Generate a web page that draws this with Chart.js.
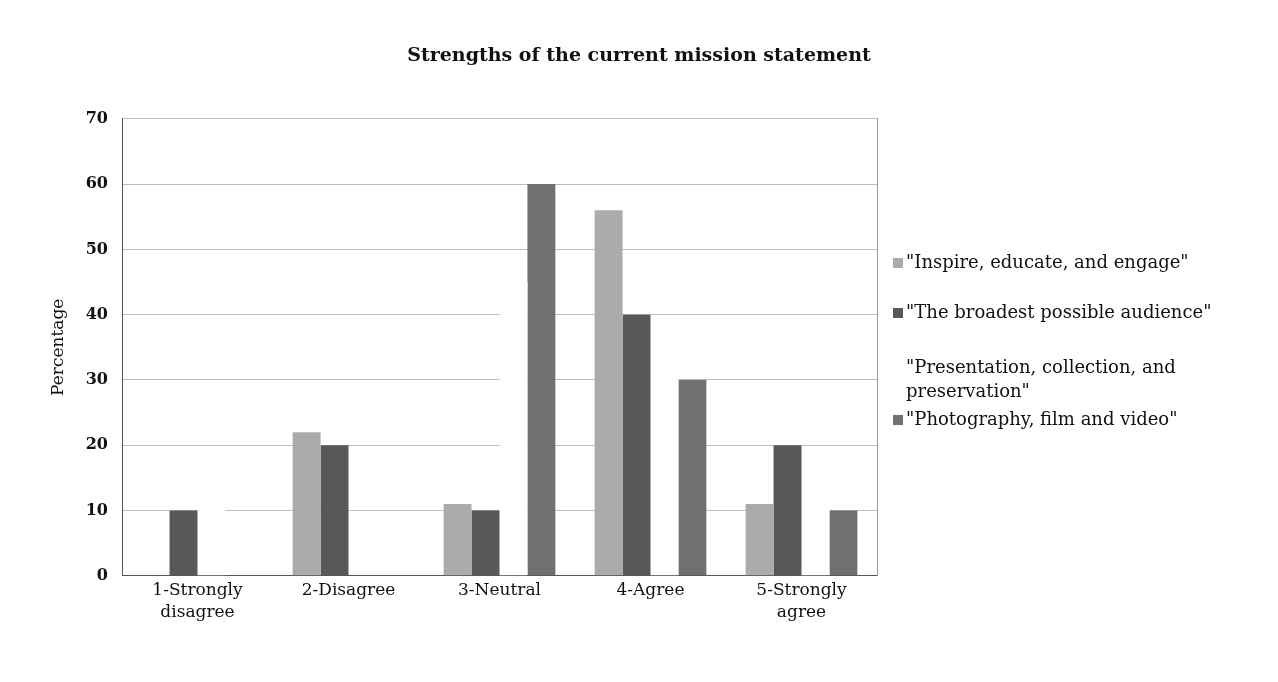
<!DOCTYPE html>
<html>
<head>
<meta charset="utf-8">
<script src="https://cdn.jsdelivr.net/npm/chart.js@4.4.1/dist/chart.umd.min.js"></script>
<style>
	html, body { margin: 0; padding: 0; background: #ffffff; }
	#wrap { width: 1278px; height: 682px; position: relative; }
</style>
</head>
<body>
<div id="wrap"><canvas id="lienzo" width="1278" height="682"></canvas></div>
<script>
// categories and series
var categories = [['1-Strongly', 'disagree'], '2-Disagree', '3-Neutral', '4-Agree', ['5-Strongly', 'agree']];
var seriesNames = [
	'"Inspire, educate, and engage"',
	'"The broadest possible audience"',
	'"Presentation, collection, and preservation"',
	'"Photography, film and video"'
];
var inspireVals      = [0, 22, 11, 56, 11];
var audienceVals     = [10, 20, 10, 40, 20];
var presentationVals = [11, 0, 45, 33, 11];   // white bars, only visible as gaps in the grid
var photoVals        = [0, 0, 60, 30, 10];
var yMax = 70;
var yStep = 10;

var seriesColors = ['#ababab', '#585858', '#ffffff', '#707070'];
var serif = '"DejaVu Serif", "Liberation Serif", serif';

var allVals = [inspireVals, audienceVals, presentationVals, photoVals];
var dtsts = [];
allVals.forEach(function(vals, i){
	dtsts.push({
		label: seriesNames[i],
		data: vals,
		backgroundColor: seriesColors[i],
		borderWidth: 0,
		barPercentage: 1.0,
		categoryPercentage: 0.74
	});
});

// legend on the right, drawn by hand so the long entry can wrap like the original
const sideLegend = {
	id: 'sideLegend',
	afterDraw: function(chart){
		const ctx = chart.ctx;
		const rowsY = [263, 313, 368, 420];
		const maxW = 360;
		ctx.save();
		ctx.font = '18px ' + serif;
		ctx.textBaseline = 'middle';
		ctx.textAlign = 'left';
		chart.data.datasets.forEach(function(ds, i){
			let y = rowsY[i];
			ctx.fillStyle = ds.backgroundColor;
			ctx.fillRect(893, y - 5, 10, 10);
			// wrap words
			let words = ds.label.split(' ');
			let lines = [];
			let cur = '';
			words.forEach(function(w){
				let test = cur ? cur + ' ' + w : w;
				if (ctx.measureText(test).width > maxW && cur) { lines.push(cur); cur = w; }
				else cur = test;
			});
			lines.push(cur);
			ctx.fillStyle = '#111111';
			lines.forEach(function(l, k){ ctx.fillText(l, 906, y + k * 24); });
		});
		ctx.restore();
	}
};

const chart = new Chart(document.getElementById('lienzo'), {
	type: 'bar',
	data: {
		labels: categories,
		datasets: dtsts
	},
	options: {
		responsive: false,
		animation: false,
		devicePixelRatio: 1,
		layout: {
			padding: { left: 0, right: 0, top: 0, bottom: 54 }
		},
		scales: {
			x: {
				grid: { display: false, drawTicks: false },
				border: { display: true, color: '#555555', width: 1 },
				ticks: {
					color: '#111111',
					padding: 4,
					maxRotation: 0,
					autoSkip: false,
					font: { family: serif, size: 17, lineHeight: 1.3 }
				}
			},
			y: {
				min: 0,
				max: yMax,
				grid: { color: '#bdbdbd', lineWidth: 1, drawTicks: false },
				border: { display: true, color: '#555555', width: 1 },
				ticks: {
					stepSize: yStep,
					padding: 14,
					color: '#111111',
					font: { family: serif, size: 16, weight: 'bold' }
				},
				title: {
					display: true,
					text: 'Percentage',
					color: '#111111',
					padding: { top: 48, bottom: 18 },
					font: { family: serif, size: 17 }
				},
				afterFit: function(scale){ scale.width = 122; }
			},
			y2: {
				position: 'right',
				min: 0,
				max: yMax,
				grid: { display: false },
				ticks: { display: false },
				border: { display: true, color: '#9a9a9a', width: 1 },
				afterFit: function(scale){ scale.width = 401; }
			}
		},
		plugins: {
			legend: { display: false },
			tooltip: { enabled: false },
			title: {
				display: true,
				text: 'Strengths of the current mission statement',
				color: '#111111',
				font: { family: serif, size: 19, weight: 'bold' },
				padding: { top: 45, bottom: 51 }
			}
		}
	},
	plugins: [sideLegend]
});
</script>
</body>
</html>
